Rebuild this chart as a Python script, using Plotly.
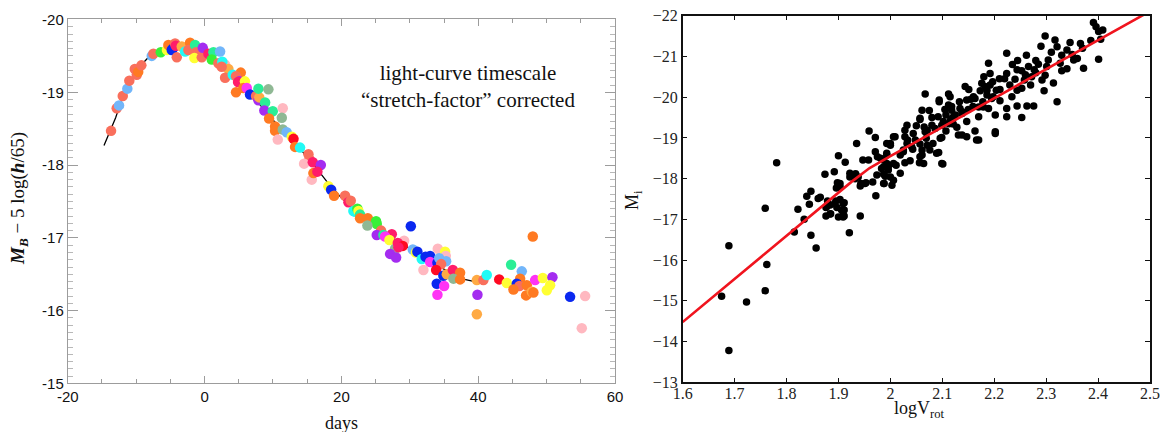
import plotly.graph_objects as go

# ---------------- Left panel data (SN Ia light curves) ----------------
template_day = [-14.7, -13, -12, -10, -8, -6, -4, -2, 0, 2, 4, 6, 8, 10, 12, 14, 16,
                18, 20, 22, 24, 26, 28, 30, 32, 34, 36, 38, 39.5]
template_mag = [-18.27, -18.65, -18.93, -19.3, -19.5, -19.6, -19.65, -19.65, -19.58,
                -19.42, -19.25, -19.06, -18.84, -18.62, -18.42, -18.22, -18.0, -17.76,
                -17.55, -17.37, -17.22, -17.08, -16.97, -16.85, -16.74, -16.62, -16.52,
                -16.43, -16.40]

sn_day = [-13.67, -12.84, -12.5, -11.96, -11.29, -11.0, -10.2, -9.91, -9.7, -9.24,
          -7.72, -7.48, -6.4, -5.5, -5.29, -4.8, -4.65, -4.31, -4.21, -4.06,
          -3.33, -2.85, -2.12, -2.37, -1.39, -1.24, -1.49, -0.41, -0.26, 0.56,
          1.29, 2.27, 1.05, 2.02, 3.0, 2.6, 3.48, 3.0, 2.5, 5.29,
          4.12, 4.6, 5.09, 4.9, 5.9, 4.6, 5.67, 6.17, 6.65, 7.53,
          7.87, 8.0, 7.87, 9.33, 8.85, 8.74, 9.97, 11.43, 11.29, 9.43,
          10.31, 10.31, 11.43, 12.0, 10.7, 12.75, 13.0, 13.23, 13.96, 15.18,
          15.33, 14.55, 15.82, 16.99, 15.67, 15.91, 16.49, 18.1, 18.5, 18.93,
          20.54, 21.03, 21.37, 21.75, 22.0, 22.34, 22.5, 22.73, 22.73, 23.86,
          25.07, 25.17, 23.8, 25.8, 25.17, 26.14, 27.37, 26.39, 27.02, 30.15,
          29.17, 27.85, 28.25, 28.98, 28.34, 27.12, 28.0, 30.44, 30.9, 31.11,
          31.75, 32.97, 32.3, 34.09, 35.16, 35.26, 35.31, 32.97, 34.04, 34.3,
          34.58, 33.85, 31.99, 34.91, 35.41, 36.29, 37.35, 36.38, 37.35, 33.94,
          35.02, 34.04, 39.8, 40.76, 41.25, 39.89, 39.8, 43.07, 44.18, 44.81,
          46.37, 46.13, 45.64, 46.02, 45.15, 47.1, 47.0, 47.84, 48.07, 48.32,
          49.44, 50.85, 50.51, 50.03, 47.98, 53.43, 55.63, 55.14]
sn_mag = [-18.47, -18.78, -18.82, -18.95, -19.05, -19.16, -19.32, -19.24, -19.28, -19.37,
          -19.50, -19.53, -19.55, -19.58, -19.65, -19.58, -19.60, -19.67, -19.64, -19.48,
          -19.63, -19.56, -19.68, -19.58, -19.65, -19.55, -19.47, -19.48, -19.61, -19.53,
          -19.55, -19.56, -19.45, -19.40, -19.38, -19.42, -19.32, -19.20, -19.35, -19.27,
          -19.24, -19.22, -19.15, -19.14, -19.15, -19.00, -19.06, -19.06, -18.97, -18.95,
          -18.89, -18.93, -19.05, -19.04, -18.86, -18.75, -18.74, -18.78, -18.65, -18.64,
          -18.53, -18.47, -18.49, -18.45, -18.35, -18.39, -18.36, -18.25, -18.24, -18.15,
          -18.08, -18.02, -18.04, -18.00, -17.80, -17.89, -17.91, -17.71, -17.66, -17.58,
          -17.58, -17.49, -17.51, -17.37, -17.36, -17.40, -17.37, -17.32, -17.27, -17.27,
          -17.23, -17.19, -17.17, -17.10, -17.04, -17.04, -17.05, -17.02, -16.97, -17.16,
          -16.96, -16.85, -16.93, -16.89, -16.87, -16.78, -16.73, -16.84, -16.80, -16.81,
          -16.71, -16.75, -16.74, -16.85, -16.81, -16.75, -16.68, -16.67, -16.66, -16.72,
          -16.64, -16.56, -16.56, -16.48, -16.50, -16.56, -16.52, -16.44, -16.43, -16.37,
          -16.34, -16.22, -16.42, -16.42, -16.49, -16.22, -15.95, -16.43, -16.38, -16.63,
          -16.54, -16.44, -16.37, -16.34, -16.29, -16.35, -16.21, -16.26, -16.25, -16.42,
          -16.45, -16.46, -16.35, -16.28, -17.02, -16.19, -16.20, -15.76]
sn_color = ["salmon", "salmon", "lightblue", "salmon", "lightblue", "salmon", "salmon", "salmon", "orange", "salmon",
            "lightblue", "salmon", "green", "yellow", "orange", "blue", "blue", "salmon", "deeppink", "salmon",
            "lightorange", "cyan", "orange", "salmon", "springgreen", "salmon", "yellow", "salmon", "purple", "deeppink",
            "springgreen", "lightblue", "green", "salmon", "pink", "cyan", "lightorange", "salmon", "salmon", "orange",
            "cyan", "salmon", "purple", "deeppink", "yellow", "orange", "orange", "magenta", "blue", "salmon",
            "purple", "lightorange", "springgreen", "sage", "springgreen", "purple", "springgreen", "pink", "sage", "orange",
            "orange", "orange", "sage", "lightblue", "pink", "yellow", "red", "orange", "cyan", "salmon",
            "salmon", "pink", "deeppink", "purple", "pink", "orange", "deeppink", "yellow", "blue", "orange",
            "salmon", "deeppink", "salmon", "cyan", "cyan", "green", "yellow", "springgreen", "orange", "orange",
            "green", "green", "sage", "salmon", "purple", "springgreen", "deeppink", "magenta", "yellow", "blue",
            "pink", "sage", "deeppink", "red", "deeppink", "purple", "purple", "lightblue", "yellow", "blue",
            "cyan", "blue", "blue", "pink", "yellow", "pink", "lightblue", "magenta", "blue", "lightblue",
            "salmon", "red", "pink", "blue", "lightorange", "deeppink", "orange", "sage", "orange", "blue",
            "magenta", "magenta", "lightorange", "salmon", "cyan", "purple", "lightorange", "red", "yellow", "springgreen",
            "lightblue", "orange", "blue", "salmon", "orange", "orange", "orange", "lightorange", "orange", "magenta",
            "yellow", "purple", "yellow", "yellow", "orange", "blue", "pink", "pink"]

palette = {"salmon": "#F96F5C", "lightblue": "#72B6FA", "green": "#38F038", "blue": "#0A28F0",
           "orange": "#FF7A22", "yellow": "#FFFF33", "cyan": "#22FAF5", "magenta": "#FF33F5",
           "purple": "#A42CF0", "deeppink": "#FF1C6A", "pink": "#FFB8C0", "sage": "#8FB894",
           "springgreen": "#2AEE96", "red": "#FF0A22", "lightorange": "#FFAA44"}

# ---------------- Right panel data (Tully-Fisher) ----------------
logv = [1.675, 1.689, 1.689, 1.723, 1.759, 1.762, 1.759, 1.781, 1.815, 1.847, 1.857, 1.834, 1.822,
        1.876, 1.884, 1.900, 1.911, 1.921, 1.942, 1.906, 1.839, 1.847, 1.844, 1.861, 1.879, 1.884,
        1.876, 1.885, 1.895, 1.897, 1.909, 1.911, 1.874, 1.892, 1.898, 1.896, 1.903, 1.900, 1.913,
        1.922, 1.929, 1.933, 1.938, 1.935, 1.943, 1.947, 1.958, 1.953, 1.959, 1.971, 1.966, 1.972,
        1.974, 1.971, 1.975, 1.981, 1.983, 1.988, 1.993, 1.993, 1.996, 1.987, 1.865, 1.877, 1.893,
        1.909, 1.911, 1.909, 1.903, 1.903, 1.922, 1.932, 1.942, 1.951, 1.987, 1.993, 2.000, 2.003,
        1.996, 2.000, 2.009, 2.011, 2.019, 2.019, 2.025, 2.028, 2.028, 2.033, 2.038, 2.032, 2.043,
        2.048, 2.057, 2.057, 2.061, 2.057, 2.065, 2.067, 2.067, 2.075, 2.061, 2.069, 2.076, 2.082,
        2.089, 2.086, 2.092, 2.094, 2.099, 2.101, 2.107, 2.107, 2.102, 2.112, 2.118, 2.116, 2.113,
        2.125, 2.128, 2.133, 2.138, 2.138, 2.144, 2.147, 2.147, 2.150, 2.159, 2.163, 2.163, 2.170,
        2.170, 2.178, 2.182, 2.186, 2.189, 2.192, 2.189, 2.195, 2.197, 2.202, 2.202, 2.204,
        2.391, 2.396, 2.401, 2.409, 2.405, 2.386, 2.401, 2.372, 2.366, 2.346, 2.353, 2.340, 2.330,
        2.327, 2.330, 2.321, 2.317, 2.321, 2.314, 2.298, 2.304, 2.301, 2.298, 2.296, 2.292, 2.285,
        2.277, 2.280, 2.272, 2.270, 2.276, 2.266, 2.262, 2.253, 2.258, 2.253, 2.263, 2.253, 2.245,
        2.244, 2.240, 2.244, 2.244, 2.234, 2.224, 2.224, 2.220, 2.224, 2.224, 2.211, 2.211, 2.202,
        2.192, 2.198, 2.186, 2.176, 2.173, 2.179, 2.170, 2.166, 2.160, 2.151, 2.147, 2.138, 2.134,
        2.131, 2.115, 2.112, 2.118, 2.121, 2.094, 2.099, 2.096, 2.093, 2.099, 2.080, 2.057, 2.071,
        2.071, 2.061, 2.056, 2.064, 2.044, 2.041, 2.032, 2.028, 2.025, 2.006, 2.000, 1.993, 1.987,
        2.006, 1.990, 2.006, 1.987, 2.350, 2.360, 2.310, 2.370, 2.280, 2.260, 2.230, 2.210, 2.180,
        2.120, 2.050, 2.080, 2.105, 2.155, 2.235, 2.290, 2.340]
mag_i = [-15.11, -16.35, -13.78, -14.97, -15.25, -15.89, -17.27, -18.39, -16.69, -16.61, -16.30, -17.00, -17.25,
         -17.08, -17.13, -17.06, -17.08, -16.67, -17.08, -17.23, -17.57, -17.69, -17.37, -17.51, -17.45, -17.35,
         -17.29, -17.14, -17.45, -17.29, -17.06, -17.41, -18.11, -18.17, -17.90, -17.77, -17.88, -18.56, -18.40,
         -18.13, -18.09, -18.12, -18.04, -18.86, -17.88, -18.46, -18.46, -17.90, -19.17, -19.01, -17.92, -17.58,
         -18.09, -18.66, -18.54, -18.50, -18.25, -17.88, -18.86, -18.37, -18.30, -18.11, -17.54, -17.31, -17.39,
         -17.39, -17.23, -17.10, -17.49, -17.80, -18.04, -18.00, -17.82, -17.88, -18.29, -18.58, -18.04, -17.84,
         -18.21, -18.86, -19.03, -18.33, -18.58, -18.13, -18.70, -19.03, -18.39, -18.95, -18.44, -19.31, -18.72,
         -18.95, -19.45, -18.85, -18.70, -18.54, -19.27, -19.15, -20.08, -19.67, -19.68, -18.99, -18.70, -18.86,
         -18.62, -19.23, -19.52, -19.93, -19.01, -18.36, -19.17, -19.56, -19.40, -20.08, -19.77, -19.44, -19.35,
         -19.56, -19.26, -19.89, -19.64, -19.07, -20.26, -19.40, -19.03, -19.70, -19.77, -19.97, -19.17, -19.52,
         -18.95, -19.89, -20.26, -20.05, -20.83, -20.58, -19.72, -19.97, -20.38, -19.56, -19.15, -20.17,
         -21.83, -21.73, -21.61, -21.65, -21.42, -21.39, -20.93, -20.71, -21.32, -21.34, -20.91, -21.16, -21.03,
         -20.83, -20.65, -21.24, -21.40, -19.89, -20.35, -21.50, -20.91, -20.75, -20.54, -20.16, -20.42, -20.81,
         -20.67, -20.60, -20.50, -20.30, -19.78, -20.75, -21.03, -20.65, -20.42, -20.22, -19.78, -19.50, -20.90,
         -20.67, -20.44, -20.17, -19.78, -20.01, -21.08, -20.58, -20.45, -19.72, -19.52, -20.19, -19.91, -19.11,
         -20.30, -20.01, -20.17, -20.34, -20.16, -19.76, -19.76, -18.95, -20.01, -20.19, -19.93, -19.60, -19.72,
         -19.07, -20.01, -19.81, -19.68, -19.34, -19.89, -19.31, -18.99, -18.64, -18.37, -19.31, -19.48, -19.19,
         -18.82, -18.58, -18.39, -18.37, -19.11, -18.78, -18.86, -19.19, -18.66, -19.03, -18.82, -18.62, -18.46,
         -18.37, -18.06, -17.96, -17.88, -21.05, -20.95, -21.10, -21.20, -20.90, -20.55, -20.30, -20.45, -20.50,
         -19.50, -19.30, -19.50, -19.70, -19.95, -20.80, -21.25, -20.70]

fit_logv = [1.6, 1.925, 1.96, 2.0, 2.5]
fit_mag = [-14.48, -17.92, -18.26, -18.55, -22.11]

# ---------------- Figure ----------------
fig = go.Figure()

fig.add_trace(go.Scatter(x=template_day, y=template_mag, mode="lines",
                         line=dict(color="black", width=1.3), xaxis="x", yaxis="y",
                         hoverinfo="skip"))
fig.add_trace(go.Scatter(x=sn_day, y=sn_mag, mode="markers",
                         marker=dict(size=10.5, color=[palette[c] for c in sn_color], line=dict(width=0)),
                         xaxis="x", yaxis="y"))

fig.add_trace(go.Scatter(x=logv, y=mag_i, mode="markers",
                         marker=dict(size=7.5, color="black", line=dict(width=0)),
                         xaxis="x2", yaxis="y2"))
fig.add_trace(go.Scatter(x=fit_logv, y=fit_mag, mode="lines",
                         line=dict(color="#F0141E", width=2.6), xaxis="x2", yaxis="y2"))

gray = "#9c9c9c"
sans = "Liberation Sans, Arial, sans-serif"
serif = "Liberation Serif, Times New Roman, serif"

left_xt = [-20, 0, 20, 40, 60]
left_yt = [-20, -19, -18, -17, -16, -15]
right_xt = [1.6, 1.7, 1.8, 1.9, 2.0, 2.1, 2.2, 2.3, 2.4, 2.5]
right_yt = [-22, -21, -20, -19, -18, -17, -16, -15, -14, -13]

fig.update_layout(
    width=1160, height=432, margin=dict(l=0, r=0, t=0, b=0, autoexpand=False),
    paper_bgcolor="white", plot_bgcolor="white", showlegend=False,
    xaxis=dict(domain=[0.0584, 0.5302], range=[-20, 60], automargin=False,
               tickvals=left_xt, ticktext=[str(v) for v in left_xt],
               ticks="inside", ticklen=7, tickwidth=1, tickcolor=gray,
               showline=True, linecolor=gray, linewidth=1, mirror="ticks",
               minor=dict(dtick=5, ticks="inside", ticklen=4, tickcolor=gray),
               showgrid=False, zeroline=False,
               tickfont=dict(family=sans, size=15, color="#111")),
    yaxis=dict(domain=[0.1123, 0.9549], range=[-15, -20], automargin=False,
               tickvals=left_yt, ticktext=[str(v) for v in left_yt],
               ticks="inside", ticklen=10, tickwidth=1, tickcolor=gray,
               showline=True, linecolor=gray, linewidth=1, mirror="ticks",
               minor=dict(dtick=0.1, ticks="inside", ticklen=5, tickcolor="#b8b8b8"),
               showgrid=False, zeroline=False,
               tickfont=dict(family=sans, size=15, color="#111")),
    xaxis2=dict(domain=[0.5885, 0.9914], range=[1.6, 2.5], anchor="y2", automargin=False,
                tickvals=right_xt, ticktext=[f"{v:g}" for v in right_xt],
                ticks="inside", ticklen=5, tickwidth=1.3, tickcolor="#111",
                showline=True, linecolor="#111", linewidth=1.5, mirror="ticks",
                showgrid=False, zeroline=False, ticklabeloverflow="allow",
                ticklabelstandoff=-4,
                tickfont=dict(family=serif, size=16, color="#222")),
    yaxis2=dict(domain=[0.115, 0.9637], range=[-13, -22], anchor="x2", automargin=False,
                tickvals=right_yt, ticktext=["\u2212" + str(-v) for v in right_yt],
                ticks="inside", ticklen=5, tickwidth=1.3, tickcolor="#111",
                showline=True, linecolor="#111", linewidth=1.5, mirror="ticks",
                showgrid=False, zeroline=False,
                tickfont=dict(family=serif, size=16, color="#222")),
    annotations=[
        dict(text="light-curve timescale<br>\u201cstretch-factor\u201d corrected",
             x=468 / 1160, y=1 - 86 / 432, xref="paper", yref="paper",
             showarrow=False, font=dict(family=serif, size=21, color="#111"),
             xanchor="center", yanchor="middle", align="center"),
        dict(text="days", x=341 / 1160, y=1 - 423 / 432, xref="paper", yref="paper",
             showarrow=False, font=dict(family=serif, size=18, color="#111"),
             xanchor="center", yanchor="middle"),
        dict(text="<b><i>M</i></b><sub><b><i>B</i></b></sub> \u2212 5 log(<b><i>h</i></b>/65)",
             x=19 / 1160, y=1 - 199 / 432, xref="paper", yref="paper",
             showarrow=False, textangle=-90, font=dict(family=serif, size=19, color="#111"),
             xanchor="center", yanchor="middle"),
        dict(text="logV<sub>rot</sub>", x=919 / 1160, y=1 - 396 / 432, xref="paper", yref="paper",
             showarrow=False, font=dict(family=serif, size=18, color="#111"),
             xanchor="center", yanchor="top"),
        dict(text="M<sub>i</sub>", x=633 / 1160, y=1 - 200 / 432, xref="paper", yref="paper",
             showarrow=False, textangle=-90, font=dict(family=serif, size=18, color="#111"),
             xanchor="center", yanchor="middle"),
    ],
)

fig.write_html("out.html", config={"displayModeBar": False},
               post_script="document.body.style.margin='0';document.body.style.overflow='hidden';")
